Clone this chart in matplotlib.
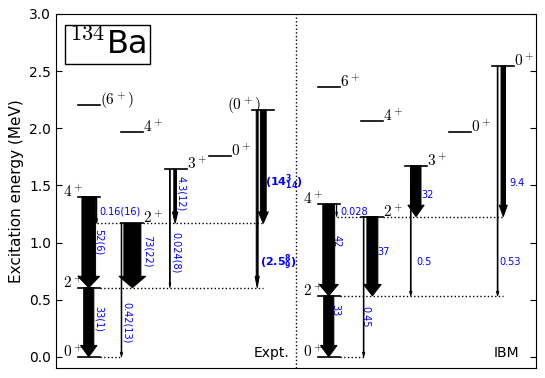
import matplotlib
matplotlib.use('Agg')
import matplotlib.pyplot as plt

# LEVELS (MeV)
exp_spin = ['0^+', '2^+', '4^+', '2^+', '3^+', '0^+', '4^+', '(6^+)', '(0^+)']
exp_energy = [0.0, 0.605, 1.401, 1.168, 1.643, 1.761, 1.970, 2.205, 2.160]

ibm_spin = ['0^+', '2^+', '4^+', '2^+', '3^+', '0^+', '4^+', '6^+', '0^+']
ibm_energy = [0.0, 0.534, 1.336, 1.227, 1.674, 1.968, 2.060, 2.360, 2.546]

# TRANSITIONS: initial level index, final level index, B(E2) in W.u.
exp_from = [2, 1, 2, 3, 3, 4, 4, 8, 8]
exp_to = [1, 0, 3, 1, 0, 3, 1, 3, 1]
exp_be2 = [52, 33, 0.16, 73, 0.42, 4.3, 0.024, 14, 2.5]
exp_be2_text = ['52(6)', '33(1)', '0.16(16)', '73(22)', '0.42(13)', '4.3(12)', '0.024(8)',
                r'$\mathbf{(14^{3}_{14})}$', r'$\mathbf{(2.5^{8}_{9})}$']

ibm_from = [2, 1, 2, 3, 3, 4, 4, 8, 8]
ibm_to = [1, 0, 3, 1, 0, 3, 1, 3, 1]
ibm_be2 = [42, 33, 0.028, 37, 0.45, 32, 0.5, 9.4, 0.53]
ibm_be2_text = ['42', '33', '0.028', '37', '0.45', '32', '0.5', '9.4', '0.53']

# LAYOUT
level_col = [0, 0, 0, 1, 2, 3, 1, 0, 4]
exp_side = ['L', 'L', 'L', 'R', 'R', 'R', 'R', 'R', 'L']
ibm_side = ['L', 'L', 'L', 'R', 'R', 'R', 'R', 'R', 'R']

exp_arrow_x = [0.75, 0.75, 0.93, 1.75, 1.50, 2.73, 2.61, 4.75, 4.61]
exp_lab = [(0.97, 1.00, 270), (0.97, 0.33, 270), (0.985, 1.27, 0), (2.10, 0.92, 270),
           (1.62, 0.30, 270), (2.86, 1.43, 270), (2.75, 0.91, 270), (4.79, 1.53, 0),
           (4.67, 0.83, 0)]
exp_dots = [(0, 1.0, 1.5), (1, 1.0, 4.75), (3, 0.93, 1.5), (3, 2.0, 4.75)]

ibm_arrow_x = [6.25, 6.25, 6.43, 7.25, 7.05, 8.25, 8.13, 10.25, 10.12]
ibm_lab = [(6.44, 1.01, 270), (6.41, 0.41, 270), (6.51, 1.27, 0), (7.37, 0.92, 0),
           (7.10, 0.35, 270), (8.38, 1.42, 0), (8.25, 0.83, 0), (10.39, 1.525, 0),
           (10.16, 0.83, 0)]
ibm_dots = [(0, 6.5, 7.05), (1, 6.5, 10.25), (3, 6.43, 7.0), (3, 7.5, 10.25)]


def arrow_width(v):
    return 0.024 * v ** 0.65


def draw_panel(ax, spin, energy, side, offset, frm, to, be2, texts, arr_x, labs, dots, name, name_x):
    # levels
    for i in range(len(energy)):
        x0 = offset + 0.5 + level_col[i]
        ax.plot([x0, x0 + 0.5], [energy[i], energy[i]], color='k', lw=1.2, zorder=3)
        if side[i] == 'L':
            lx = x0 + (0.2 if level_col[i] > 0 else 0.11)
            ax.text(lx, energy[i], '$' + spin[i] + '$', ha='right', va='baseline',
                    fontsize=11, math_fontfamily='cm')
        else:
            ax.text(x0 + 0.5, energy[i], '$' + spin[i] + '$', ha='left', va='baseline',
                    fontsize=11, math_fontfamily='cm')
    # dotted guide lines
    for lev, xa, xb in dots:
        ax.plot([xa, xb], [energy[lev], energy[lev]], color='k', ls=':', lw=1.0, zorder=1)
    # transitions
    for k in range(len(be2)):
        e_i, e_f = energy[frm[k]], energy[to[k]]
        w = arrow_width(be2[k])
        hl = 0.1 if be2[k] >= 1 else 0.04
        ax.arrow(arr_x[k], e_i, 0, e_f - e_i, width=w, head_width=1.5 * w + 0.03,
                 head_length=hl, length_includes_head=True, fc='k', ec='k', lw=0.7, zorder=4)
        lx, ly, rot = labs[k]
        bold = texts[k].startswith('$')
        if rot:
            ax.text(lx, ly, texts[k], rotation=rot, ha='center', va='center',
                    fontsize=7, color='blue')
        else:
            ax.text(lx, ly, texts[k], ha='left', va='center', fontsize=8 if bold else 7,
                    color='blue', math_fontfamily='dejavusans')
    ax.text(name_x, 0.0, name, ha='right', va='baseline', fontsize=10)


fig = plt.figure(figsize=(5.45, 3.78), dpi=100)
ax = fig.add_axes([0.1028, 0.0257, 0.8807, 0.9373])

draw_panel(ax, exp_spin, exp_energy, exp_side, 0.0, exp_from, exp_to, exp_be2, exp_be2_text,
           exp_arrow_x, exp_lab, exp_dots, 'Expt.', 5.35)
draw_panel(ax, ibm_spin, ibm_energy, ibm_side, 5.5, ibm_from, ibm_to, ibm_be2, ibm_be2_text,
           ibm_arrow_x, ibm_lab, ibm_dots, 'IBM', 10.61)

ax.axvline(5.5, color='k', ls=':', lw=1.0)

ax.text(0.027, 0.958, r'$^{134}$Ba', transform=ax.transAxes, ha='left', va='top', fontsize=23,
        math_fontfamily='cm',
        bbox=dict(boxstyle='square,pad=0.12', fc='white', ec='black', lw=1))

ax.set_xlim(0, 11)
ax.set_ylim(-0.1, 3.0)
ax.set_xticks([])
ax.set_yticks([0.0, 0.5, 1.0, 1.5, 2.0, 2.5, 3.0])
ax.set_yticklabels(['%.1f' % t for t in [0.0, 0.5, 1.0, 1.5, 2.0, 2.5, 3.0]])
ax.tick_params(axis='y', direction='in', left=True, right=True, length=4, labelsize=10)
ax.set_ylabel('Excitation energy (MeV)', fontsize=11)

fig.savefig('out.png', dpi=100)
